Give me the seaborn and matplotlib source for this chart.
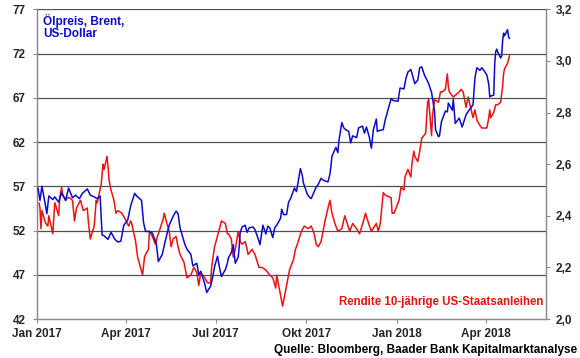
import matplotlib
matplotlib.use("Agg")
import matplotlib.pyplot as plt
import seaborn as sns
import pandas as pd

# ---------------- data ----------------
brent_dates = [
    "2017-01-02","2017-01-04","2017-01-06","2017-01-09","2017-01-11","2017-01-13","2017-01-17","2017-01-19",
    "2017-01-23","2017-01-26","2017-01-30","2017-02-02","2017-02-06","2017-02-09","2017-02-13","2017-02-16",
    "2017-02-21","2017-02-24","2017-02-28","2017-03-03","2017-03-06","2017-03-08","2017-03-10","2017-03-14",
    "2017-03-17","2017-03-21","2017-03-24","2017-03-27","2017-03-30","2017-04-03","2017-04-06","2017-04-10",
    "2017-04-12","2017-04-17","2017-04-19","2017-04-21","2017-04-25","2017-04-28","2017-05-02","2017-05-04",
    "2017-05-08","2017-05-11","2017-05-15","2017-05-19","2017-05-22","2017-05-24","2017-05-26","2017-05-31",
    "2017-06-02","2017-06-06","2017-06-08","2017-06-12","2017-06-14","2017-06-16","2017-06-20","2017-06-22",
    "2017-06-26","2017-06-28","2017-06-30","2017-07-03","2017-07-05","2017-07-07","2017-07-11","2017-07-13",
    "2017-07-14","2017-07-17","2017-07-19","2017-07-21","2017-07-24","2017-07-25","2017-07-26","2017-07-28",
    "2017-07-31","2017-08-02","2017-08-04","2017-08-08","2017-08-10","2017-08-14","2017-08-15","2017-08-18",
    "2017-08-21","2017-08-23","2017-08-25","2017-08-28","2017-08-30","2017-09-01","2017-09-05","2017-09-06",
    "2017-09-08","2017-09-11","2017-09-13","2017-09-15","2017-09-19","2017-09-21","2017-09-22","2017-09-25",
    "2017-09-27","2017-09-28","2017-10-02","2017-10-04","2017-10-06","2017-10-09","2017-10-11","2017-10-13",
    "2017-10-16","2017-10-18","2017-10-20","2017-10-23","2017-10-25","2017-10-26","2017-10-27","2017-10-31",
    "2017-11-02","2017-11-03","2017-11-06","2017-11-08","2017-11-10","2017-11-13","2017-11-15","2017-11-17",
    "2017-11-21","2017-11-23","2017-11-27","2017-11-29","2017-12-01","2017-12-04","2017-12-06","2017-12-08",
    "2017-12-11","2017-12-12","2017-12-14","2017-12-18","2017-12-20","2017-12-22","2017-12-26","2017-12-28",
    "2018-01-02","2018-01-04","2018-01-08","2018-01-10","2018-01-12","2018-01-15","2018-01-17","2018-01-19",
    "2018-01-22","2018-01-24","2018-01-26","2018-01-29","2018-01-31","2018-02-02","2018-02-05","2018-02-06",
    "2018-02-08","2018-02-09","2018-02-12","2018-02-13","2018-02-15","2018-02-19","2018-02-21","2018-02-22",
    "2018-02-26","2018-02-27","2018-03-01","2018-03-05","2018-03-08","2018-03-12","2018-03-15","2018-03-19",
    "2018-03-21","2018-03-23","2018-03-26","2018-03-28","2018-04-02","2018-04-04","2018-04-05","2018-04-06",
    "2018-04-09","2018-04-10","2018-04-11","2018-04-12","2018-04-13","2018-04-16","2018-04-17","2018-04-18",
    "2018-04-19","2018-04-20","2018-04-23","2018-04-24","2018-04-25",
]
brent_usd = [
    56.8, 55.4, 57.0, 55.2, 53.9, 55.9, 55.5, 55.8,
    55.2, 56.3, 55.4, 56.8, 55.7, 56.0, 55.6, 56.2,
    56.7, 56.0, 55.8, 55.6, 55.9, 51.5, 51.4, 51.0,
    51.8, 51.0, 50.7, 50.8, 52.6, 53.2, 54.8, 56.2,
    55.9, 55.4, 52.9, 51.9, 51.9, 51.7, 50.5, 48.5,
    49.3, 50.8, 52.6, 53.6, 54.2, 53.9, 52.3, 50.4,
    49.9, 49.3, 48.0, 48.3, 47.0, 47.4, 46.0, 45.0,
    45.7, 46.7, 47.9, 49.1, 47.8, 46.8, 47.6, 48.3,
    48.9, 49.5, 50.4, 48.3, 49.0, 50.2, 51.8, 52.4,
    52.6, 51.8, 52.3, 52.4, 52.1, 50.8, 50.4, 52.6,
    51.6, 52.5, 52.3, 51.2, 52.3, 52.6, 53.4, 54.4,
    53.8, 53.8, 55.2, 55.6, 56.8, 56.4, 57.0, 59.0,
    58.2, 57.4, 56.1, 55.8, 55.6, 56.4, 56.9, 57.2,
    57.9, 57.7, 57.6, 57.5, 58.4, 59.3, 60.4, 61.4,
    60.8, 62.1, 64.2, 63.6, 63.4, 63.2, 61.9, 62.7,
    62.5, 63.6, 63.8, 63.0, 63.7, 62.5, 61.3, 63.4,
    64.6, 63.2, 63.3, 63.4, 64.5, 65.3, 66.9, 66.7,
    66.6, 68.1, 68.0, 69.2, 69.9, 70.2, 69.4, 68.6,
    69.0, 70.4, 70.5, 69.5, 69.1, 68.6, 67.6, 66.9,
    65.5, 63.4, 62.6, 62.7, 64.3, 65.5, 65.4, 66.4,
    65.6, 66.8, 64.1, 64.7, 63.7, 65.1, 65.6, 66.2,
    69.3, 70.4, 70.1, 70.4, 69.6, 68.5, 67.1, 67.2,
    67.3, 70.8, 72.2, 72.5, 72.2, 71.5, 71.7, 73.4,
    74.3, 74.0, 74.7, 73.9, 73.7,
]

yield_dates = [
    "2017-01-03","2017-01-04","2017-01-05","2017-01-06","2017-01-09","2017-01-10","2017-01-12","2017-01-13",
    "2017-01-17","2017-01-19","2017-01-20","2017-01-23","2017-01-24","2017-01-26","2017-01-27","2017-01-30",
    "2017-02-01","2017-02-03","2017-02-06","2017-02-08","2017-02-10","2017-02-14","2017-02-17","2017-02-21",
    "2017-02-22","2017-02-24","2017-02-28","2017-03-02","2017-03-03","2017-03-07","2017-03-09","2017-03-10",
    "2017-03-13","2017-03-14","2017-03-15","2017-03-17","2017-03-20","2017-03-22","2017-03-24","2017-03-28",
    "2017-03-31","2017-04-04","2017-04-06","2017-04-07","2017-04-11","2017-04-13","2017-04-18","2017-04-20",
    "2017-04-21","2017-04-24","2017-04-25","2017-04-28","2017-05-01","2017-05-03","2017-05-05","2017-05-09",
    "2017-05-10","2017-05-12","2017-05-15","2017-05-17","2017-05-19","2017-05-22","2017-05-24","2017-05-26",
    "2017-05-30","2017-06-01","2017-06-02","2017-06-06","2017-06-09","2017-06-12","2017-06-14","2017-06-16",
    "2017-06-20","2017-06-23","2017-06-26","2017-06-27","2017-06-30","2017-07-05","2017-07-07","2017-07-11",
    "2017-07-13","2017-07-14","2017-07-17","2017-07-19","2017-07-21","2017-07-24","2017-07-26","2017-07-28",
    "2017-07-31","2017-08-02","2017-08-03","2017-08-07","2017-08-10","2017-08-14","2017-08-17","2017-08-21",
    "2017-08-23","2017-08-25","2017-08-28","2017-08-31","2017-09-01","2017-09-05","2017-09-07","2017-09-08",
    "2017-09-11","2017-09-14","2017-09-18","2017-09-20","2017-09-22","2017-09-26","2017-09-29","2017-10-03",
    "2017-10-06","2017-10-09","2017-10-11","2017-10-13","2017-10-16","2017-10-18","2017-10-19","2017-10-20",
    "2017-10-23","2017-10-25","2017-10-27","2017-10-30","2017-11-02","2017-11-06","2017-11-09","2017-11-14",
    "2017-11-17","2017-11-21","2017-11-24","2017-11-28","2017-11-30","2017-12-04","2017-12-06","2017-12-11",
    "2017-12-13","2017-12-15","2017-12-18","2017-12-20","2017-12-26","2017-12-27","2017-12-29","2018-01-03",
    "2018-01-05","2018-01-08","2018-01-09","2018-01-12","2018-01-15","2018-01-16","2018-01-18","2018-01-19",
    "2018-01-22","2018-01-24","2018-01-26","2018-01-30","2018-02-01","2018-02-02","2018-02-05","2018-02-06",
    "2018-02-08","2018-02-12","2018-02-14","2018-02-16","2018-02-19","2018-02-21","2018-02-22","2018-02-23",
    "2018-02-27","2018-03-02","2018-03-05","2018-03-07","2018-03-09","2018-03-12","2018-03-14","2018-03-16",
    "2018-03-19","2018-03-21","2018-03-23","2018-03-26","2018-03-28","2018-04-02","2018-04-04","2018-04-05",
    "2018-04-06","2018-04-09","2018-04-11","2018-04-13","2018-04-16","2018-04-18","2018-04-19","2018-04-20",
    "2018-04-23","2018-04-25",
]
yield_pct = [
    2.45, 2.43, 2.35, 2.42, 2.38, 2.37, 2.36, 2.40,
    2.33, 2.45, 2.44, 2.40, 2.47, 2.51, 2.48, 2.46,
    2.47, 2.47, 2.46, 2.38, 2.43, 2.46, 2.42, 2.43,
    2.38, 2.31, 2.36, 2.46, 2.45, 2.52, 2.60, 2.58,
    2.63, 2.59, 2.54, 2.50, 2.46, 2.41, 2.42, 2.41,
    2.39, 2.36, 2.38, 2.37, 2.30, 2.24, 2.17, 2.24,
    2.25, 2.27, 2.34, 2.32, 2.29, 2.32, 2.34, 2.39,
    2.41, 2.38, 2.34, 2.28, 2.31, 2.32, 2.28, 2.25,
    2.22, 2.18, 2.16, 2.17, 2.20, 2.18, 2.13, 2.18,
    2.16, 2.14, 2.14, 2.20, 2.28, 2.35, 2.38, 2.37,
    2.33, 2.33, 2.31, 2.24, 2.27, 2.34, 2.30, 2.29,
    2.30, 2.27, 2.25, 2.27, 2.25, 2.20, 2.20, 2.19,
    2.18, 2.17, 2.16, 2.12, 2.17, 2.09, 2.05, 2.07,
    2.13, 2.19, 2.23, 2.27, 2.29, 2.34, 2.36, 2.35,
    2.36, 2.33, 2.29, 2.28, 2.30, 2.34, 2.36, 2.38,
    2.43, 2.46, 2.41, 2.37, 2.34, 2.35, 2.40, 2.34,
    2.37, 2.35, 2.33, 2.38, 2.41, 2.36, 2.34, 2.37,
    2.34, 2.37, 2.49, 2.48, 2.47, 2.41, 2.41, 2.46,
    2.51, 2.50, 2.55, 2.58, 2.55, 2.60, 2.65, 2.63,
    2.61, 2.65, 2.70, 2.72, 2.84, 2.85, 2.71, 2.79,
    2.85, 2.84, 2.88, 2.88, 2.89, 2.95, 2.90, 2.88,
    2.86, 2.87, 2.88, 2.89, 2.88, 2.82, 2.86, 2.83,
    2.78, 2.81, 2.77, 2.75, 2.74, 2.74, 2.78, 2.81,
    2.78, 2.80, 2.83, 2.83, 2.84, 2.90, 2.95, 2.97,
    2.99, 3.02,
]

left_ticks = [42, 47, 52, 57, 62, 67, 72, 77]
right_ticks = [2.0, 2.2, 2.4, 2.6, 2.8, 3.0, 3.2]
x_tick_dates = ["2017-01-01", "2017-04-01", "2017-07-01", "2017-10-01", "2018-01-01", "2018-04-01"]
x_tick_labels = ["Jan 2017", "Apr 2017", "Jul 2017", "Okt 2017", "Jan 2018", "Apr 2018"]

# ---------------- styling ----------------
sns.set_style("white")
plt.rcParams["font.family"] = ["Liberation Sans", "DejaVu Sans"]
plt.rcParams["font.weight"] = "bold"

BLUE = "#0a0acc"
RED = "#f01010"
GRID = "#505050"
AXC = "#8c8c8c"

df_b = pd.DataFrame({"date": pd.to_datetime(brent_dates), "value": brent_usd})
df_r = pd.DataFrame({"date": pd.to_datetime(yield_dates), "value": yield_pct})

fig = plt.figure(figsize=(5.8, 3.58), dpi=100)
ax = fig.add_axes([37 / 580, (358 - 319) / 358, (546 - 37) / 580, (319 - 9.3) / 358])
ax2 = ax.twinx()

sns.lineplot(data=df_b, x="date", y="value", ax=ax, color=BLUE, linewidth=1.1, zorder=3)
sns.lineplot(data=df_r, x="date", y="value", ax=ax2, color=RED, linewidth=1.1, zorder=3)

ax.set_xlim(pd.Timestamp("2017-01-01"), pd.Timestamp("2018-06-01"))
ax.set_ylim(42, 77)
ax2.set_ylim(2.0, 3.2)

ax.set_yticks(left_ticks)
ax.set_yticklabels([str(t) for t in left_ticks])
ax2.set_yticks(right_ticks)
ax2.set_yticklabels([f"{t:.1f}".replace(".", ",") for t in right_ticks])
ax.set_xticks(pd.to_datetime(x_tick_dates))
ax.set_xticklabels(x_tick_labels)

for a in (ax, ax2):
    a.set_xlabel("")
    a.set_ylabel("")
    a.tick_params(labelsize=8.5, length=3, width=0.8, color=AXC, pad=2)
    for s in a.spines.values():
        s.set_color(AXC)
        s.set_linewidth(0.9)
    a.spines["top"].set_visible(False)

ax.tick_params(axis="y", left=True, labelleft=True, pad=5)
ax.tick_params(axis="x", bottom=True, pad=3.5)
ax2.tick_params(axis="y", right=True, labelright=True, pad=4)

for t in left_ticks[1:]:
    ax.axhline(t, color=GRID, linewidth=0.9, zorder=1)

ax.set_zorder(ax2.get_zorder() + 1)
ax.patch.set_visible(False)

ax.text(0.012, 0.985, "Ölpreis, Brent,\nUS-Dollar", transform=ax.transAxes,
        color=BLUE, fontsize=8.5, fontweight="bold", va="top", ha="left", linespacing=0.95)
ax.text(0.994, 0.035, "Rendite 10-jährige US-Staatsanleihen", transform=ax.transAxes,
        color=RED, fontsize=8.3, fontweight="bold", va="bottom", ha="right")
fig.text(0.995, 0.006, "Quelle: Bloomberg, Baader Bank Kapitalmarktanalyse",
         color="black", fontsize=8.5, fontweight="bold", va="bottom", ha="right")

fig.savefig("out.png", dpi=100, facecolor="white")
